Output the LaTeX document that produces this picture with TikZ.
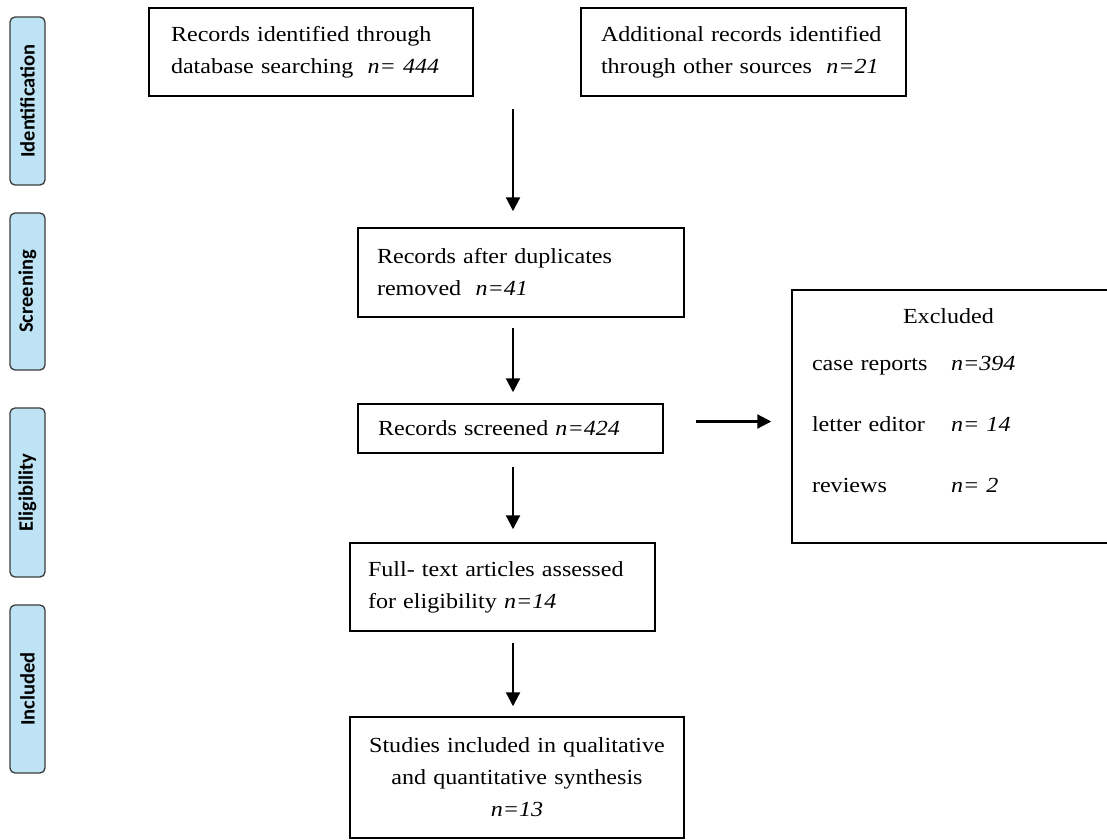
\documentclass[tikz,border=0pt]{standalone}
\usepackage{fontspec}
\setmainfont{Liberation Serif}[FakeStretch=1.12]
\setsansfont{Carlito}
\usepackage{xcolor}
\definecolor{phaseblue}{HTML}{BDE3F4}
\definecolor{phaseedge}{HTML}{3C3C3C}
\usepackage{tikz}
\usetikzlibrary{arrows.meta, calc}

\begin{document}
\begin{tikzpicture}[x=1pt, y=-1pt,
	box/.style={draw, line width=1.5pt, rectangle, align=left, inner ysep=0pt, font=\fontsize{21.5}{32}\selectfont},
	phase/.style={draw=phaseedge, fill=phaseblue, line width=1.3pt, rounded corners=5pt, rotate=90, minimum height=35pt, inner sep=0pt, font=\sffamily\bfseries\fontsize{20.5}{24}\selectfont},
	arr/.style={line width=2.2pt, -{Triangle[width=14pt, length=14pt]}}]
	\useasboundingbox (0,0) rectangle (1107,839);
	
	\node[phase, minimum width=168pt] (ident) at (27.5,101) {Identification};
	\node[phase, minimum width=157pt] (screen) at (27.5,291.5) {Screening};
	\node[phase, minimum width=169pt] (elig) at (27.5,492.5) {Eligibility};
	\node[phase, minimum width=168pt] (incl) at (27.5,689) {Included};
	
	\node[box, text width=280pt, inner xsep=22pt, minimum height=88pt] (database) at (311,52) {Records identified through\\database searching\ \ \textit{n= 444}};
	\node[box, text width=285pt, inner xsep=20pt, minimum height=88pt] (other) at (743.5,52) {Additional records identified\\through other sources\ \ \textit{n=21}};
	\node[box, text width=288pt, inner xsep=19pt, minimum height=89pt] (dedup) at (521,272.5) {Records after duplicates\\removed\ \ \textit{n=41}};
	\node[box, text width=265pt, inner xsep=20pt, minimum height=49pt] (screened) at (510.5,428.5) {Records screened \textit{n=424}};
	\node[box, text width=269pt, inner xsep=18pt, minimum height=88pt] (fulltext) at (502.5,587) {Full- text articles assessed\\for eligibility \textit{n=14}};
	\node[box, text width=314pt, inner xsep=10pt, minimum height=121pt, align=center] (studies) at (517,777.5) {Studies included in qualitative\\and quantitative synthesis\\\textit{n=13}};
	\node[box, text width=288pt, inner xsep=20pt, minimum height=253pt] (excluded) at (956,416.5) {\hspace*{91pt}Excluded\\[15pt]
		\makebox[139pt][l]{case reports}\textit{n=394}\\[29pt]
		\makebox[139pt][l]{letter editor}\textit{n= 14}\\[29pt]
		\makebox[139pt][l]{reviews}\textit{n= 2}\\\mbox{}};
	
	\coordinate (merge) at (513,109);
	\draw[arr, shorten >=16pt] (merge) -- (merge |- dedup.north);
	\draw[arr, shorten <=10pt, shorten >=11pt] (merge |- dedup.south) -- (merge |- screened.north);
	\draw[arr, shorten <=13pt, shorten >=13pt] (merge |- screened.south) -- (merge |- fulltext.north);
	\draw[arr, shorten <=11pt, shorten >=10pt] (merge |- fulltext.south) -- (merge |- studies.north);
	\draw[arr, shorten <=32pt, shorten >=20pt] ([yshift=7pt]screened.east) -- ([yshift=7pt]screened.east -| excluded.west);
\end{tikzpicture}
\end{document}
